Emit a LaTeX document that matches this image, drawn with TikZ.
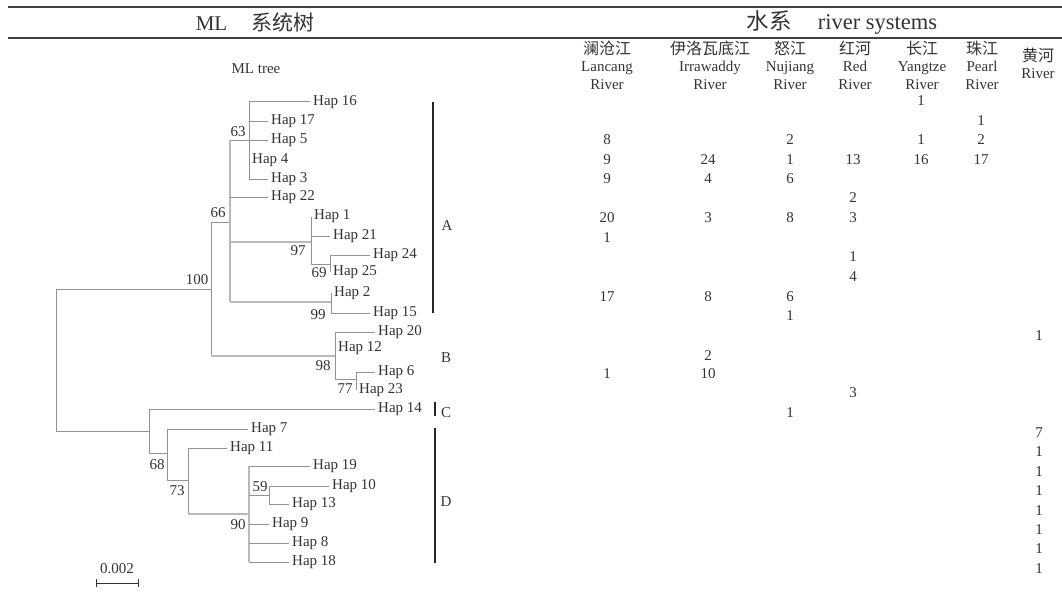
\documentclass[tikz,border=0pt]{standalone}
\usepackage{fontspec}
\setmainfont{Liberation Serif}
\newfontfamily\cjk{Noto Sans CJK SC}
\begin{document}
\begin{tikzpicture}[x=1pt,y=-1pt,
  every node/.style={inner sep=0pt, text=black!80},
  txt/.style={font=\fontsize{15}{17.5}\selectfont},
  leaf/.style={txt, anchor=west, inner xsep=3pt},
  boot/.style={txt, anchor=center},
  num/.style={txt, anchor=center},
  colhead/.style={font=\fontsize{15}{17.5}\selectfont, align=center, anchor=center},
  title/.style={font=\fontsize{21}{24}\selectfont, anchor=center},
  br/.style={draw=gray!85, line width=0.9pt},
  brb/.style={draw=gray!55, line width=1.6pt},
  bar/.style={draw=black!85, line width=1.8pt},
  rule/.style={draw=black!75, line width=1.4pt}]
\useasboundingbox (0,0) rectangle (1062,600);

% header rules and titles
\coordinate (r1a) at (8,7); \coordinate (r1b) at (1062,7);
\coordinate (r2a) at (8,38); \coordinate (r2b) at (1062,38);
\draw[rule] (r1a) -- (r1b);
\draw[rule] (r2a) -- (r2b);
\node[title] (t1) at (255,22) {ML\hspace{24pt}{\cjk 系统树}};
\node[title, font=\fontsize{22.5}{25}\selectfont] (t2) at (842,22) {{\cjk 水系}\hspace{26pt}river systems};
\node[txt] (mltree) at (256,69) {ML tree};

% column headers
\node[colhead] (cL) at (607,65) {{\cjk\fontsize{16}{17.5}\selectfont 澜沧江}\\Lancang\\River};
\node[colhead] (cI) at (710,65) {{\cjk\fontsize{16}{17.5}\selectfont 伊洛瓦底江}\\Irrawaddy\\River};
\node[colhead] (cN) at (790,65) {{\cjk\fontsize{16}{17.5}\selectfont 怒江}\\Nujiang\\River};
\node[colhead] (cR) at (855,65) {{\cjk\fontsize{16}{17.5}\selectfont 红河}\\Red\\River};
\node[colhead] (cY) at (922,65) {{\cjk\fontsize{16}{17.5}\selectfont 长江}\\Yangtze\\River};
\node[colhead] (cP) at (982,65) {{\cjk\fontsize{16}{17.5}\selectfont 珠江}\\Pearl\\River};
\node[colhead] (cH) at (1038,63.5) {{\cjk\fontsize{16}{17.5}\selectfont 黄河}\\River};

% table values
\foreach \x/\y/\v [count=\k] in {
  921/101/1, 981/121/1,
  607/140/8, 790/140/2, 921/140/1, 981/140/2,
  607/160/9, 708/160/24, 790/160/1, 853/160/13, 921/160/16, 981/160/17,
  607/179/9, 708/179/4, 790/179/6,
  853/198/2,
  607/218/20, 708/218/3, 790/218/8, 853/218/3,
  607/238/1,
  853/257/1, 853/277/4,
  607/297/17, 708/297/8, 790/297/6,
  790/316/1,
  1039/336/1,
  708/356/2,
  607/374/1, 708/374/10,
  853/393/3,
  790/413/1,
  1039/433/7, 1039/452/1, 1039/472/1, 1039/491/1, 1039/511/1, 1039/530/1, 1039/549/1, 1039/569/1}
  {\node[num] (v\k) at (\x,\y) {\v};}

% ---------- tree ----------
\coordinate (root) at (56,289);
\coordinate (rootb) at (56,431);
% leaves (tips)
\node[leaf] (h16) at (310,101.7) {Hap 16};
\node[leaf] (h17) at (268,121) {Hap 17};
\node[leaf] (h5)  at (268,140) {Hap 5};
\node[leaf] (h4)  at (249,160) {Hap 4};
\node[leaf] (h3)  at (268,179) {Hap 3};
\node[leaf] (h22) at (268,197) {Hap 22};
\node[leaf] (h1)  at (311,216) {Hap 1};
\node[leaf] (h21) at (330,236) {Hap 21};
\node[leaf] (h24) at (370,255) {Hap 24};
\node[leaf] (h25) at (330,272) {Hap 25};
\node[leaf] (h2)  at (331,293) {Hap 2};
\node[leaf] (h15) at (370,313) {Hap 15};
\node[leaf] (h20) at (375,332) {Hap 20};
\node[leaf] (h12) at (335,348) {Hap 12};
\node[leaf] (h6)  at (375,372) {Hap 6};
\node[leaf] (h23) at (356,390) {Hap 23};
\node[leaf] (h14) at (375,409) {Hap 14};
\node[leaf] (h7)  at (248,429) {Hap 7};
\node[leaf] (h11) at (227,448) {Hap 11};
\node[leaf] (h19) at (310,466) {Hap 19};
\node[leaf] (h10) at (329,486) {Hap 10};
\node[leaf] (h13) at (289,504) {Hap 13};
\node[leaf] (h9)  at (269,524) {Hap 9};
\node[leaf] (h8)  at (289,543) {Hap 8};
\node[leaf] (h18) at (289,562) {Hap 18};

% root
\draw[br] (root) -- (rootb);
\draw[br] (root) -- (211,289);
\draw[br] (rootb) -- (149,431);
% node 100
\draw[br] (211,222) -- (211,356);
\draw[br] (211,222) -- (230,222);
% node 66
\draw[brb] (230,140) -- (230,302);
% node 63
\draw[br] (230,140) -- (h5.west);
\draw[br] (249,101.7) -- (249,179);
\draw[br] (249,101.7) -- (h16.west);
\draw[br] (249,121) -- (h17.west);
\draw[br] (249,179) -- (h3.west);
\draw[br] (230,197) -- (h22.west);
% node 97
\draw[brb] (230,242) -- (311,242);
\draw[br] (311,217) -- (311,264);
\draw[br] (311,236) -- (h21.west);
\draw[br] (311,264) -- (330,264);
% node 69
\draw[br] (330,255) -- (330,272);
\draw[br] (330,255) -- (h24.west);
% node 99
\draw[brb] (230,302) -- (331,302);
\draw[br] (331,293) -- (331,313);
\draw[br] (331,313) -- (h15.west);
% node 98
\draw[brb] (211,356) -- (335,356);
\draw[br] (335,332) -- (335,379);
\draw[br] (335,332) -- (h20.west);
\draw[br] (335,379) -- (356,379);
% node 77
\draw[br] (356,372) -- (356,390);
\draw[br] (356,372) -- (h6.west);
% outgroup
\draw[br] (149,409) -- (149,453);
\draw[br] (149,409) -- (h14.west);
\draw[br] (149,453) -- (167,453);
% node 68
\draw[br] (167,429) -- (167,480);
\draw[br] (167,429) -- (h7.west);
\draw[br] (167,480) -- (188,480);
% node 73
\draw[br] (188,448) -- (188,514);
\draw[br] (188,448) -- (h11.west);
\draw[brb] (188,514) -- (249,514);
% node 90
\draw[brb] (249,466) -- (249,562);
\draw[br] (249,466) -- (h19.west);
\draw[br] (249,495) -- (269,495);
\draw[br] (249,524) -- (h9.west);
\draw[br] (249,543) -- (h8.west);
\draw[br] (249,562) -- (h18.west);
% node 59
\draw[br] (269,486) -- (269,504);
\draw[br] (269,486) -- (h10.west);
\draw[br] (269,504) -- (h13.west);

% bootstrap values
\node[boot] (b63)  at (238,132) {63};
\node[boot] (b66)  at (218,213) {66};
\node[boot] (b97)  at (298,251) {97};
\node[boot] (b69)  at (319,273) {69};
\node[boot] (b100) at (197,280) {100};
\node[boot] (b99)  at (318,315) {99};
\node[boot] (b98)  at (323,366) {98};
\node[boot] (b77)  at (345,389) {77};
\node[boot] (b68)  at (157,465) {68};
\node[boot] (b73)  at (177,491) {73};
\node[boot] (b59)  at (260,487) {59};
\node[boot] (b90)  at (238,525) {90};

% clade bars
\coordinate (Aa) at (433,102); \coordinate (Ab) at (433,313);
\coordinate (Ca) at (435,402); \coordinate (Cb) at (435,416);
\coordinate (Da) at (435,428); \coordinate (Db) at (435,563);
\draw[bar] (Aa) -- (Ab);
\draw[bar] (Ca) -- (Cb);
\draw[bar] (Da) -- (Db);
\node[txt] (cladeA) at (447,226) {A};
\node[txt] (cladeB) at (446,358) {B};
\node[txt] (cladeC) at (446,413) {C};
\node[txt] (cladeD) at (446,502) {D};

% scale bar
\node[txt] (scale) at (117,569) {0.002};
\coordinate (sa) at (96,583); \coordinate (sb) at (138,583);
\draw[draw=black!80, line width=1pt] (sa) -- (sb);
\draw[draw=black!80, line width=1pt] ([yshift=-4pt]sa) -- ([yshift=4pt]sa);
\draw[draw=black!80, line width=1pt] ([yshift=-4pt]sb) -- ([yshift=4pt]sb);
\end{tikzpicture}
\end{document}
